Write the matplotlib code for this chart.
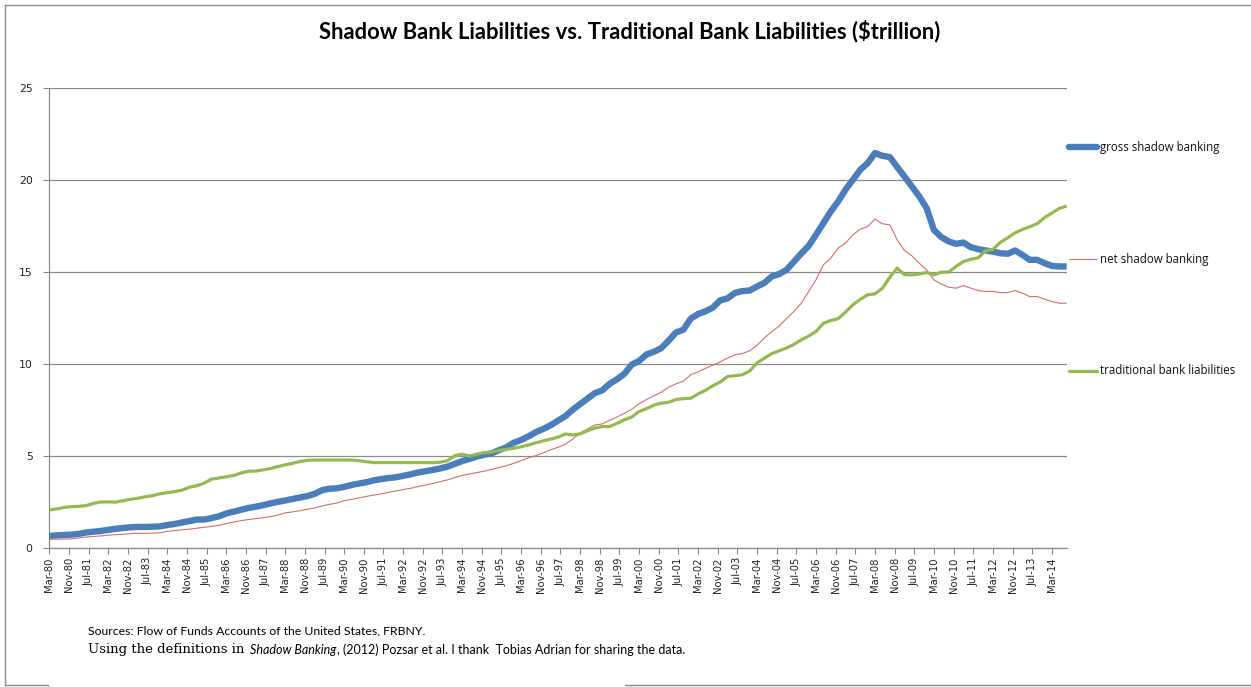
import numpy as np
import pandas as pd
import matplotlib
matplotlib.use("Agg")
import matplotlib.pyplot as plt

# quarterly data, Mar-80 .. Sep-14 ($ trillion)
gross_shadow = [
    0.63, 0.66, 0.68, 0.70, 0.74, 0.82, 0.86, 0.90, 0.96, 1.02, 1.06, 1.10,
    1.12, 1.12, 1.13, 1.15, 1.22, 1.28, 1.36, 1.44, 1.52, 1.52, 1.60, 1.70,
    1.85, 1.95, 2.05, 2.15, 2.22, 2.30, 2.40, 2.48, 2.56, 2.64, 2.72, 2.80,
    2.92, 3.12, 3.20, 3.22, 3.30, 3.40, 3.48, 3.55, 3.65, 3.72, 3.78, 3.82,
    3.90, 3.98, 4.08, 4.15, 4.22, 4.30, 4.40, 4.55, 4.70, 4.82, 4.95, 5.05,
    5.12, 5.30, 5.45, 5.70, 5.85, 6.05, 6.28, 6.45, 6.65, 6.90, 7.15, 7.50,
    7.80, 8.10, 8.40, 8.55, 8.90, 9.15, 9.45, 9.95, 10.15, 10.50, 10.65, 10.85,
    11.25, 11.70, 11.85, 12.45, 12.70, 12.85, 13.05, 13.45, 13.55, 13.85, 13.95, 13.98,
    14.20, 14.40, 14.75, 14.88, 15.10, 15.55, 16.00, 16.41, 17.01, 17.65, 18.28, 18.83,
    19.46, 20.00, 20.55, 20.91, 21.46, 21.31, 21.24, 20.70, 20.19, 19.64, 19.10, 18.46,
    17.28, 16.89, 16.65, 16.52, 16.59, 16.34, 16.23, 16.16, 16.10, 16.01, 15.98, 16.16,
    15.92, 15.65, 15.65, 15.47, 15.32, 15.29, 15.29]

net_shadow = [
    0.45, 0.45, 0.46, 0.47, 0.52, 0.57, 0.60, 0.63, 0.67, 0.70, 0.72, 0.76,
    0.77, 0.77, 0.78, 0.80, 0.88, 0.92, 0.96, 1.00, 1.05, 1.10, 1.15, 1.20,
    1.30, 1.38, 1.46, 1.52, 1.57, 1.62, 1.68, 1.76, 1.88, 1.94, 2.00, 2.08,
    2.15, 2.26, 2.35, 2.42, 2.55, 2.62, 2.70, 2.78, 2.85, 2.92, 3.00, 3.08,
    3.15, 3.22, 3.32, 3.40, 3.48, 3.58, 3.68, 3.80, 3.92, 4.00, 4.08, 4.15,
    4.25, 4.35, 4.45, 4.58, 4.72, 4.88, 5.00, 5.15, 5.32, 5.45, 5.62, 5.90,
    6.22, 6.45, 6.67, 6.72, 6.92, 7.10, 7.30, 7.52, 7.82, 8.05, 8.25, 8.45,
    8.72, 8.90, 9.05, 9.40, 9.55, 9.75, 9.92, 10.10, 10.30, 10.48, 10.55, 10.70,
    11.00, 11.40, 11.75, 12.05, 12.45, 12.85, 13.29, 13.93, 14.56, 15.38, 15.74, 16.29,
    16.56, 17.01, 17.32, 17.46, 17.87, 17.61, 17.56, 16.74, 16.16, 15.87, 15.47, 15.10,
    14.56, 14.34, 14.16, 14.11, 14.25, 14.11, 13.98, 13.93, 13.93, 13.87, 13.87, 13.98,
    13.84, 13.65, 13.65, 13.51, 13.38, 13.29, 13.29]

traditional = [
    2.04, 2.10, 2.18, 2.22, 2.24, 2.28, 2.40, 2.48, 2.48, 2.47, 2.55, 2.62,
    2.68, 2.76, 2.82, 2.92, 2.98, 3.04, 3.12, 3.28, 3.36, 3.50, 3.72, 3.78,
    3.85, 3.92, 4.05, 4.15, 4.16, 4.22, 4.30, 4.40, 4.50, 4.58, 4.68, 4.74,
    4.76, 4.76, 4.76, 4.76, 4.76, 4.76, 4.72, 4.67, 4.62, 4.62, 4.62, 4.62,
    4.62, 4.62, 4.62, 4.62, 4.62, 4.64, 4.72, 5.00, 5.08, 4.98, 5.08, 5.16,
    5.20, 5.28, 5.34, 5.40, 5.48, 5.58, 5.70, 5.80, 5.90, 6.00, 6.18, 6.12,
    6.18, 6.35, 6.50, 6.58, 6.58, 6.75, 6.95, 7.10, 7.40, 7.55, 7.75, 7.85,
    7.90, 8.05, 8.10, 8.12, 8.35, 8.55, 8.80, 9.00, 9.30, 9.35, 9.40, 9.60,
    10.05, 10.30, 10.55, 10.70, 10.85, 11.05, 11.30, 11.50, 11.75, 12.20, 12.35, 12.45,
    12.80, 13.20, 13.50, 13.75, 13.80, 14.10, 14.70, 15.20, 14.85, 14.83, 14.88, 14.96,
    14.83, 14.98, 14.98, 15.30, 15.55, 15.68, 15.76, 16.15, 16.22, 16.60, 16.85, 17.12,
    17.30, 17.45, 17.62, 17.95, 18.20, 18.45, 18.58]

series_names = ["gross shadow banking", "net shadow banking", "traditional bank liabilities"]
series_colors = ["#4a7ebb", "#d46e6b", "#94b94e"]
series_widths = [4.6, 0.8, 2.3]

dates = pd.date_range("1980-03-01", periods=len(gross_shadow), freq="3MS")
tick_dates = pd.date_range("1980-03-01", "2014-03-01", freq="8MS")
tick_labels = [d.strftime("%b-%y") for d in tick_dates]

fig = plt.figure(figsize=(12.51, 6.87), dpi=100)
ax = fig.add_axes([49.3 / 1251, 1 - 547.5 / 687, (1066.7 - 49.3) / 1251, (547.5 - 88) / 687])

for vals, name, col, lw in zip([gross_shadow, net_shadow, traditional],
                               series_names, series_colors, series_widths):
    ax.plot(dates, vals, color=col, lw=lw, label=name,
            solid_joinstyle="round", solid_capstyle="butt", zorder=3)

ax.set_xlim(dates[0], dates[-1])
ax.set_ylim(0, 25)
ax.set_yticks([0, 5, 10, 15, 20, 25])
ax.set_xticks(tick_dates)
ax.set_xticklabels(tick_labels, rotation=90, fontsize=7.2, color="#222222")
ax.tick_params(axis="y", labelsize=7.8, labelcolor="#222222", length=4, color="#888888", pad=8)
ax.tick_params(axis="x", length=4, color="#888888", pad=3)
ax.grid(axis="y", color="#8c8c8c", lw=0.9)
ax.set_axisbelow(True)
for s in ["top", "right"]:
    ax.spines[s].set_visible(False)
for s in ["left", "bottom"]:
    ax.spines[s].set_color("#8c8c8c")
    ax.spines[s].set_linewidth(0.9)

# legend entries sit beside the plot
leg_y = [147, 259, 371]
for name, col, lw, yp in zip(series_names, series_colors, series_widths, leg_y):
    yf = 1 - yp / 687
    fig.add_artist(plt.Line2D([1069 / 1251, 1097 / 1251], [yf, yf], color=col, lw=lw,
                              solid_capstyle="round" if lw > 2 else "butt"))
    fig.text(1100 / 1251, yf, name, fontsize=8.3, family="Open Sans",
             va="center", ha="left", color="#111111")

fig.text(630 / 1251, 1 - 31 / 687,
         "Shadow Bank Liabilities vs. Traditional Bank Liabilities ($trillion)",
         ha="center", va="center", fontsize=15.8, fontweight="bold", family="Lato")

# outer chart frame (partly open along the bottom)
frame = dict(color="#8c8c8c", lw=1.0)
fig.add_artist(plt.Line2D([5 / 1251, 1251 / 1251], [1 - 5 / 687, 1 - 5 / 687], **frame))
fig.add_artist(plt.Line2D([5 / 1251, 5 / 1251], [1 - 5 / 687, 1 - 685 / 687], **frame))
fig.add_artist(plt.Line2D([5 / 1251, 48 / 1251], [1 - 685 / 687, 1 - 685 / 687], **frame))
fig.add_artist(plt.Line2D([625 / 1251, 1251 / 1251], [1 - 685 / 687, 1 - 685 / 687], **frame))

# footnote lines, mixed fonts on the second
fig.text(88 / 1251, 1 - 631 / 687,
         "Sources: Flow of Funds Accounts of the United States, FRBNY.",
         fontsize=8.8, family="Lato", va="center", ha="left")
fig.canvas.draw()
renderer = fig.canvas.get_renderer()
pieces = [("Using the definitions in ", dict(family="DejaVu Serif", fontsize=9.5)),
          ("Shadow Banking", dict(family="Lato", style="italic", fontsize=9.0)),
          (", (2012) Pozsar et al. I thank  Tobias Adrian for sharing the data.",
           dict(family="Lato", fontsize=9.0))]
xpos = 88
for txt, kw in pieces:
    t = fig.text(xpos / 1251, 1 - 650 / 687, txt, va="center", ha="left", **kw)
    bb = t.get_window_extent(renderer)
    xpos = bb.x1 + 1

fig.savefig("out.png", dpi=100)
